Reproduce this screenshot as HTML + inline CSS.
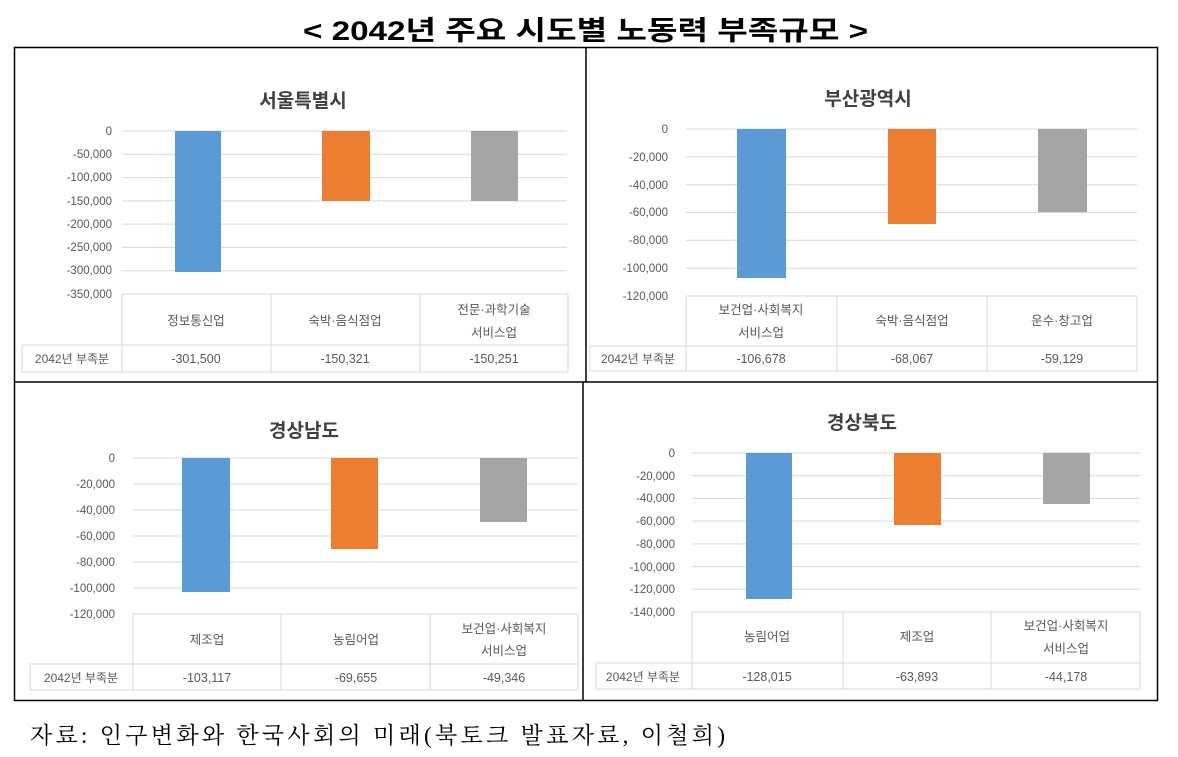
<!DOCTYPE html>
<html><head><meta charset="utf-8"><style>
html,body{margin:0;padding:0;background:#fff;}
svg{display:block;}
.t{font-family:"Liberation Sans","Noto Sans CJK KR",sans-serif;}
.ax{font-size:11.5px;fill:#595959;text-anchor:end;}
.cat{font-size:12.5px;fill:#595959;text-anchor:middle;}
.ttl{font-size:19px;font-weight:bold;fill:#404040;text-anchor:middle;}
.g{stroke:#d9d9d9;stroke-width:1;}
.tb{stroke:#d9d9d9;stroke-width:1;fill:none;}
</style></head><body>
<svg width="1178" height="757" viewBox="0 0 1178 757" class="t">
<text x="303" y="40" textLength="565" lengthAdjust="spacingAndGlyphs" style="font-size:27px;font-weight:bold;fill:#000">&lt; 2042년 주요 시도별 노동력 부족규모 &gt;</text>
<rect x="14.5" y="47.5" width="1143" height="653" fill="none" stroke="#000" stroke-width="1.5"/>
<line x1="586" y1="47" x2="586" y2="382" stroke="#000" stroke-width="1.5"/>
<line x1="583" y1="382" x2="583" y2="701" stroke="#000" stroke-width="1.5"/>
<line x1="14" y1="382" x2="1158" y2="382" stroke="#000" stroke-width="1.5"/>

<text class="ttl" x="303" y="107">서울특별시</text>
<g>
<line class="g" x1="122" x2="567" y1="131" y2="131"/><line class="g" x1="122" x2="567" y1="154.3" y2="154.3"/><line class="g" x1="122" x2="567" y1="177.6" y2="177.6"/><line class="g" x1="122" x2="567" y1="200.9" y2="200.9"/><line class="g" x1="122" x2="567" y1="224.1" y2="224.1"/><line class="g" x1="122" x2="567" y1="247.4" y2="247.4"/><line class="g" x1="122" x2="567" y1="270.7" y2="270.7"/>
<text class="ax" x="112" y="135">0</text><text class="ax" x="112" y="158">-50,000</text><text class="ax" x="112" y="181">-100,000</text><text class="ax" x="112" y="205">-150,000</text><text class="ax" x="112" y="228">-200,000</text><text class="ax" x="112" y="251">-250,000</text><text class="ax" x="112" y="274">-300,000</text><text class="ax" x="112" y="298">-350,000</text>
<rect x="175" y="131" width="46" height="141" fill="#5b9bd5"/>
<rect x="322" y="131" width="48" height="70" fill="#ed7d31"/>
<rect x="471" y="131" width="47" height="70" fill="#a5a5a5"/>
<path class="tb" d="M122 294H568V372H22V345H568M122 294V372M271 294V372M420 294V372M568 294V372M22 345V372"/>
<text class="cat" x="196" y="325">정보통신업</text><text class="cat" x="345" y="325">숙박·음식점업</text><text class="cat" x="494" y="314">전문·과학기술</text><text class="cat" x="494" y="337">서비스업</text>
<text class="cat" x="72" y="363" style="font-size:12px">2042년 부족분</text><text class="cat" x="196" y="363">-301,500</text><text class="cat" x="345" y="363">-150,321</text><text class="cat" x="494" y="363">-150,251</text>
</g>

<text class="ttl" x="868" y="105">부산광역시</text>
<g>
<line class="g" x1="686" x2="1137" y1="129" y2="129"/><line class="g" x1="686" x2="1137" y1="156.8" y2="156.8"/><line class="g" x1="686" x2="1137" y1="184.7" y2="184.7"/><line class="g" x1="686" x2="1137" y1="212.5" y2="212.5"/><line class="g" x1="686" x2="1137" y1="240.3" y2="240.3"/><line class="g" x1="686" x2="1137" y1="268.2" y2="268.2"/>
<text class="ax" x="668" y="133">0</text><text class="ax" x="668" y="161">-20,000</text><text class="ax" x="668" y="189">-40,000</text><text class="ax" x="668" y="216">-60,000</text><text class="ax" x="668" y="244">-80,000</text><text class="ax" x="668" y="272">-100,000</text><text class="ax" x="668" y="300">-120,000</text>
<rect x="737" y="129" width="49" height="149" fill="#5b9bd5"/>
<rect x="888" y="129" width="48" height="95" fill="#ed7d31"/>
<rect x="1038" y="129" width="49" height="83" fill="#a5a5a5"/>
<path class="tb" d="M686 296H1137V371H590V346H1137M686 296V371M837 296V371M987 296V371M1137 296V371M590 346V371"/>
<text class="cat" x="761" y="314">보건업·사회복지</text><text class="cat" x="761" y="337">서비스업</text><text class="cat" x="912" y="325">숙박·음식점업</text><text class="cat" x="1062" y="325">운수·창고업</text>
<text class="cat" x="638" y="363" style="font-size:12px">2042년 부족분</text><text class="cat" x="761" y="363">-106,678</text><text class="cat" x="912" y="363">-68,067</text><text class="cat" x="1062" y="363">-59,129</text>
</g>

<text class="ttl" x="304" y="437">경상남도</text>
<g>
<line class="g" x1="133" x2="578" y1="458" y2="458"/><line class="g" x1="133" x2="578" y1="484" y2="484"/><line class="g" x1="133" x2="578" y1="510" y2="510"/><line class="g" x1="133" x2="578" y1="536" y2="536"/><line class="g" x1="133" x2="578" y1="562" y2="562"/><line class="g" x1="133" x2="578" y1="588" y2="588"/>
<text class="ax" x="115" y="462">0</text><text class="ax" x="115" y="488">-20,000</text><text class="ax" x="115" y="514">-40,000</text><text class="ax" x="115" y="540">-60,000</text><text class="ax" x="115" y="566">-80,000</text><text class="ax" x="115" y="592">-100,000</text><text class="ax" x="115" y="618">-120,000</text>
<rect x="182" y="458" width="48" height="134" fill="#5b9bd5"/>
<rect x="331" y="458" width="47" height="91" fill="#ed7d31"/>
<rect x="480" y="458" width="47" height="64" fill="#a5a5a5"/>
<path class="tb" d="M133 614H578V690H30V664H578M133 614V690M281 614V690M430 614V690M578 614V690M30 664V690"/>
<text class="cat" x="207" y="644">제조업</text><text class="cat" x="356" y="644">농림어업</text><text class="cat" x="504" y="633">보건업·사회복지</text><text class="cat" x="504" y="655">서비스업</text>
<text class="cat" x="81" y="682" style="font-size:12px">2042년 부족분</text><text class="cat" x="207" y="682">-103,117</text><text class="cat" x="356" y="682">-69,655</text><text class="cat" x="504" y="682">-49,346</text>
</g>

<text class="ttl" x="862" y="429">경상북도</text>
<g>
<line class="g" x1="692" x2="1140" y1="453" y2="453"/><line class="g" x1="692" x2="1140" y1="475.7" y2="475.7"/><line class="g" x1="692" x2="1140" y1="498.4" y2="498.4"/><line class="g" x1="692" x2="1140" y1="521.1" y2="521.1"/><line class="g" x1="692" x2="1140" y1="543.9" y2="543.9"/><line class="g" x1="692" x2="1140" y1="566.6" y2="566.6"/><line class="g" x1="692" x2="1140" y1="589.3" y2="589.3"/>
<text class="ax" x="675" y="457">0</text><text class="ax" x="675" y="480">-20,000</text><text class="ax" x="675" y="502">-40,000</text><text class="ax" x="675" y="525">-60,000</text><text class="ax" x="675" y="548">-80,000</text><text class="ax" x="675" y="571">-100,000</text><text class="ax" x="675" y="593">-120,000</text><text class="ax" x="675" y="616">-140,000</text>
<rect x="746" y="453" width="46" height="146" fill="#5b9bd5"/>
<rect x="894" y="453" width="47" height="72" fill="#ed7d31"/>
<rect x="1043" y="453" width="47" height="51" fill="#a5a5a5"/>
<path class="tb" d="M692 612H1140V689H596V663H1140M692 612V689M843 612V689M991 612V689M1140 612V689"/>
<text class="cat" x="767" y="641">농림어업</text><text class="cat" x="917" y="641">제조업</text><text class="cat" x="1066" y="630">보건업·사회복지</text><text class="cat" x="1066" y="653">서비스업</text>
<text class="cat" x="643" y="681" style="font-size:12px">2042년 부족분</text><text class="cat" x="767" y="681">-128,015</text><text class="cat" x="917" y="681">-63,893</text><text class="cat" x="1066" y="681">-44,178</text>
</g>

<text x="30" y="743" textLength="695" lengthAdjust="spacing" style="font-family:'Liberation Serif','Noto Serif CJK SC',serif;font-size:23px;fill:#000">자료: 인구변화와 한국사회의 미래(북토크 발표자료, 이철희)</text>
</svg>
</body></html>
